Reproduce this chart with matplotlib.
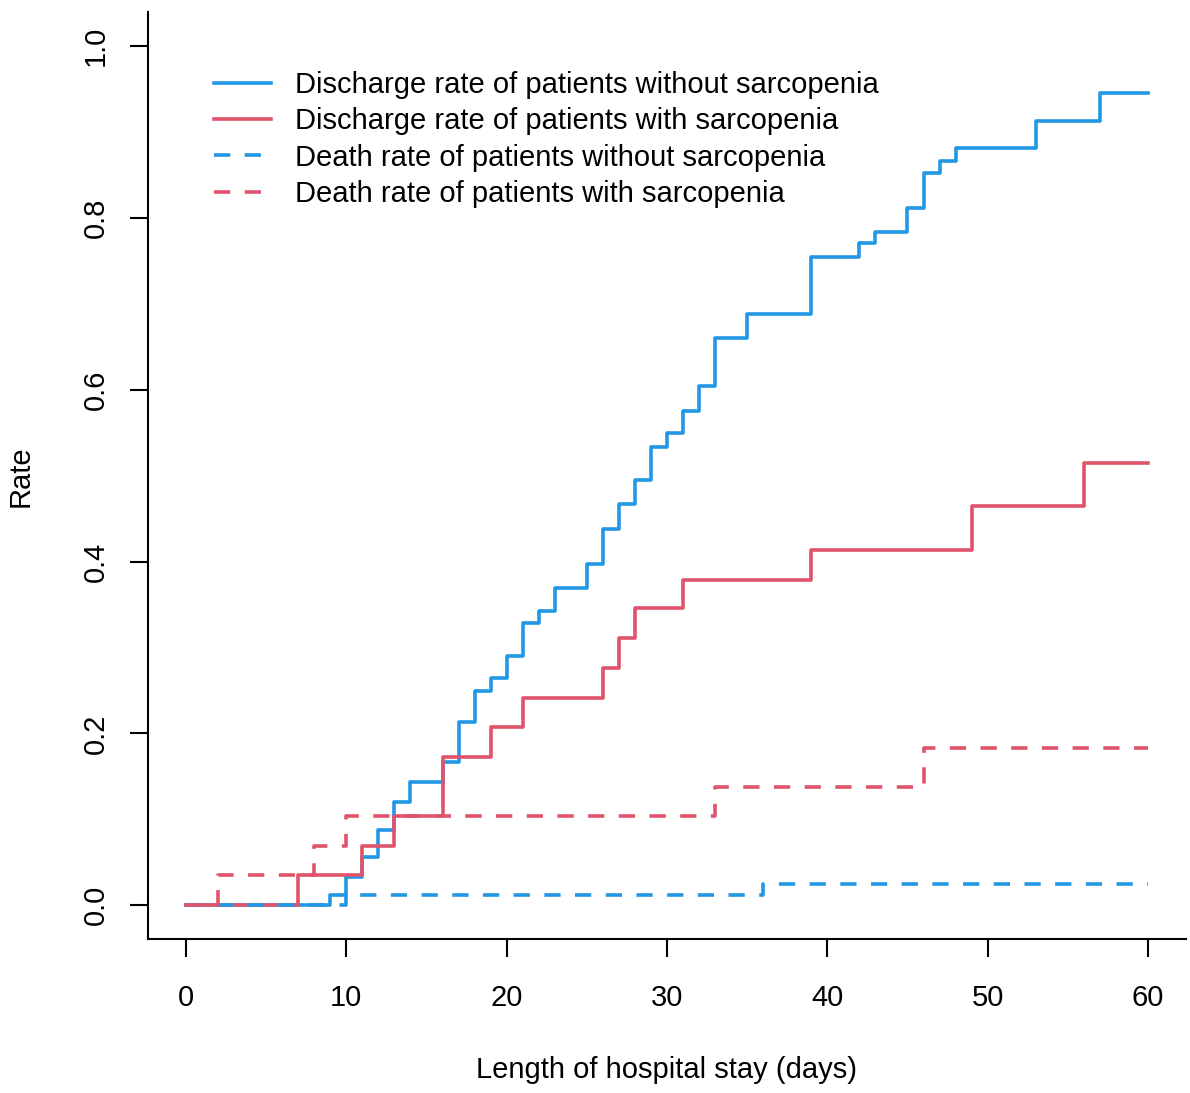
import numpy as np
import matplotlib
matplotlib.use("Agg")
import matplotlib.pyplot as plt

plt.rcParams['font.family'] = ['Liberation Sans', 'DejaVu Sans']

# discharge, no sarcopenia
t_dis_no = [0, 9, 10, 11, 12, 13, 14, 16, 17, 18, 19, 20, 21, 22, 23, 25, 26, 27,
            28, 29, 30, 31, 32, 33, 35, 39, 42, 43, 45, 46, 47, 48, 53, 57, 60]
r_dis_no = [0, 0.012, 0.033, 0.056, 0.088, 0.12, 0.143, 0.167, 0.213, 0.249, 0.264,
            0.29, 0.328, 0.342, 0.369, 0.397, 0.438, 0.467, 0.495, 0.534, 0.55, 0.575,
            0.604, 0.66, 0.688, 0.755, 0.771, 0.784, 0.812, 0.852, 0.867, 0.882,
            0.913, 0.946, 0.946]

# discharge, sarcopenia
t_dis_sar = [0, 7, 11, 13, 16, 19, 21, 26, 27, 28, 31, 39, 49, 56, 60]
r_dis_sar = [0, 0.035, 0.069, 0.104, 0.173, 0.207, 0.241, 0.276, 0.311, 0.346,
             0.379, 0.414, 0.465, 0.515, 0.515]

# death, no sarcopenia
t_death_no = [0, 10, 36, 60]
r_death_no = [0, 0.012, 0.025, 0.025]

# death, sarcopenia
t_death_sar = [0, 2, 8, 10, 33, 46, 60]
r_death_sar = [0, 0.035, 0.069, 0.104, 0.138, 0.183, 0.183]

labels = ['Discharge rate of patients without sarcopenia',
          'Discharge rate of patients with sarcopenia',
          'Death rate of patients without sarcopenia',
          'Death rate of patients with sarcopenia']

blue = '#2297E6'
red = '#DF536B'

fig = plt.figure(figsize=(11.9, 10.93), dpi=100)
ax = fig.add_axes([0.124, 0.1405, 0.873, 0.8485])

lw = 2.6
dash = (4.5, 4.0)
ax.step(t_dis_no, r_dis_no, where='post', color=blue, lw=lw, label=labels[0])
ax.step(t_dis_sar, r_dis_sar, where='post', color=red, lw=lw, label=labels[1])
ax.step(t_death_no, r_death_no, where='post', color=blue, lw=lw, dashes=dash, label=labels[2])
ax.step(t_death_sar, r_death_sar, where='post', color=red, lw=lw, dashes=dash, label=labels[3])

ax.set_xlim(-2.4, 62.4)
ax.set_ylim(-0.04, 1.04)
ax.set_xticks(np.arange(0, 61, 10))
ax.set_yticks(np.arange(0, 1.01, 0.2))
ax.set_yticklabels(['%.1f' % v for v in np.arange(0, 1.01, 0.2)], rotation=90, va='center')

for s in ['top', 'right']:
    ax.spines[s].set_visible(False)
for s in ['left', 'bottom']:
    ax.spines[s].set_linewidth(1.5)
ax.tick_params(direction='out', length=13, width=1.5, labelsize=21)
ax.tick_params(axis='x', pad=19)
ax.tick_params(axis='y', pad=14)

ax.set_xlabel('Length of hospital stay (days)', fontsize=21, labelpad=32)
ax.set_ylabel('Rate', fontsize=21, labelpad=34)

ax.legend(loc='upper left', bbox_to_anchor=(0.039, 0.965), frameon=False,
          fontsize=21, handlelength=1.95, handletextpad=0.8, labelspacing=0.29)

fig.savefig('out.png', dpi=100)
